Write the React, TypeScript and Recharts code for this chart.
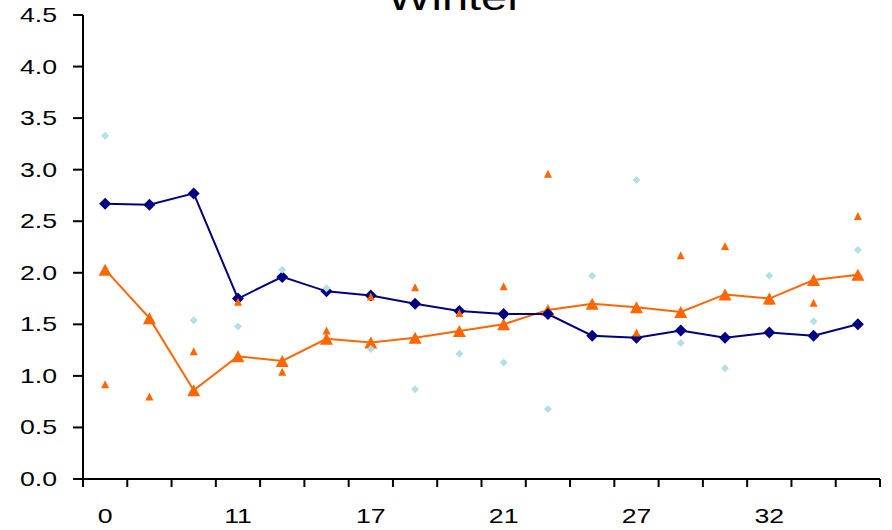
import React from 'react';
import { ComposedChart, Line, XAxis, YAxis } from 'recharts';

// category labels: only every third slot carries a label
const categories = ['0', '', '', '11', '', '', '17', '', '', '21', '', '', '27', '', '', '32', '', ''];

// mean lines
const navyMean = [2.67, 2.66, 2.77, 1.75, 1.96, 1.82, 1.78, 1.70, 1.63, 1.60, 1.60, 1.39, 1.37, 1.44, 1.37, 1.42, 1.39, 1.50];
const orangeMean = [2.03, 1.56, 0.86, 1.19, 1.145, 1.36, 1.325, 1.37, 1.435, 1.50, 1.64, 1.70, 1.665, 1.62, 1.79, 1.75, 1.93, 1.98];

// individual observations (null where hidden under the mean marker)
const blueObs: (number | null)[] = [3.33, null, 1.54, 1.48, 2.03, 1.85, 1.26, 0.87, 1.215, 1.13, 0.68, 1.97, 2.90, 1.32, 1.075, 1.97, 1.53, 2.22];
const orangeObs: (number | null)[] = [0.92, 0.80, 1.24, 1.72, 1.04, 1.44, 1.77, 1.86, 1.61, 1.87, 2.96, null, 1.42, 2.17, 2.26, 1.73, 1.71, 2.55];

const yTicks = [0, 0.5, 1, 1.5, 2, 2.5, 3, 3.5, 4, 4.5];

const NAVY = '#000080';
const ORANGE = '#FF6600';
const LIGHT_BLUE = '#B4DFE4';
const FONT = '"Liberation Sans", Arial, sans-serif';
const STRETCH = 1.27;

const data = categories.map((label, i) => ({
  x: i + 0.5,
  label,
  navy: navyMean[i],
  orange: orangeMean[i],
  blue: blueObs[i],
  orangePt: orangeObs[i],
}));

const xTicks = [
  ...categories.map((_, i) => i),
  categories.length,
  ...categories.map((l, i) => (l ? i + 0.5 : -1)).filter((v) => v >= 0),
];

const diamond = (r: number, color: string) => (p: any) => {
  if (p.cy == null || p.value == null) return <g key={p.index} />;
  const { cx, cy } = p;
  return (
    <path key={p.index} d={`M${cx},${cy - r}L${cx + r},${cy}L${cx},${cy + r}L${cx - r},${cy}Z`} fill={color} stroke="none" />
  );
};

const triangle = (w: number, h: number, color: string) => (p: any) => {
  if (p.cy == null || p.value == null) return <g key={p.index} />;
  const { cx, cy } = p;
  return (
    <path key={p.index} d={`M${cx},${cy - h / 2}L${cx + w / 2},${cy + h / 2}L${cx - w / 2},${cy + h / 2}Z`} fill={color} stroke="none" />
  );
};

const YTick = (p: any) => (
  <text
    transform={`translate(${p.x},${p.y + 7}) scale(${STRETCH},1)`}
    textAnchor="end"
    fontFamily={FONT}
    fontSize={21}
    fill="#000"
  >
    {Number(p.payload.value).toFixed(1)}
  </text>
);

const XTick = (p: any) => {
  const v = p.payload.value;
  if (Number.isInteger(v)) {
    return <line x1={p.x} x2={p.x} y1={p.y - 8} y2={p.y} stroke="#000" strokeWidth={2} />;
  }
  const label = categories[Math.floor(v)];
  return (
    <text
      transform={`translate(${p.x},${p.y + 36}) scale(${STRETCH},1)`}
      textAnchor="middle"
      fontFamily={FONT}
      fontSize={21}
      fill="#000"
    >
      {label}
    </text>
  );
};

export default function App() {
  return (
    <div style={{ position: 'absolute', left: 0, top: 0, width: 892, height: 530, background: '#fff' }}>
      <ComposedChart width={892} height={530} data={data} margin={{ top: 15, right: 12, bottom: 0, left: 0 }}>
        <XAxis
          dataKey="x"
          type="number"
          domain={[0, 18]}
          ticks={xTicks}
          interval={0}
          height={51}
          tickSize={8}
          tickMargin={0}
          tickLine={false}
          axisLine={{ stroke: '#000', strokeWidth: 2 }}
          tick={<XTick />}
        />
        <YAxis
          type="number"
          domain={[0, 4.5]}
          ticks={yTicks}
          interval={0}
          width={83}
          tickSize={10}
          tickMargin={16}
          axisLine={{ stroke: '#000', strokeWidth: 2 }}
          tickLine={{ stroke: '#000', strokeWidth: 2 }}
          tick={<YTick />}
        />
        <Line dataKey="orange" stroke={ORANGE} strokeWidth={2} dot={triangle(13, 12, ORANGE)} activeDot={false} isAnimationActive={false} />
        <Line dataKey="navy" stroke={NAVY} strokeWidth={2} dot={diamond(6, NAVY)} activeDot={false} isAnimationActive={false} />
        <Line dataKey="blue" stroke="none" dot={diamond(4, LIGHT_BLUE)} activeDot={false} isAnimationActive={false} />
        <Line dataKey="orangePt" stroke="none" dot={triangle(8, 8, ORANGE)} activeDot={false} isAnimationActive={false} />
      </ComposedChart>
      <svg width={892} height={40} style={{ position: 'absolute', left: 0, top: 0, pointerEvents: 'none' }}>
        <text
          transform={`translate(455,10) scale(${STRETCH},1)`}
          textAnchor="middle"
          fontFamily={FONT}
          fontSize={37}
          fill="#000"
        >
          Winter
        </text>
      </svg>
    </div>
  );
}
